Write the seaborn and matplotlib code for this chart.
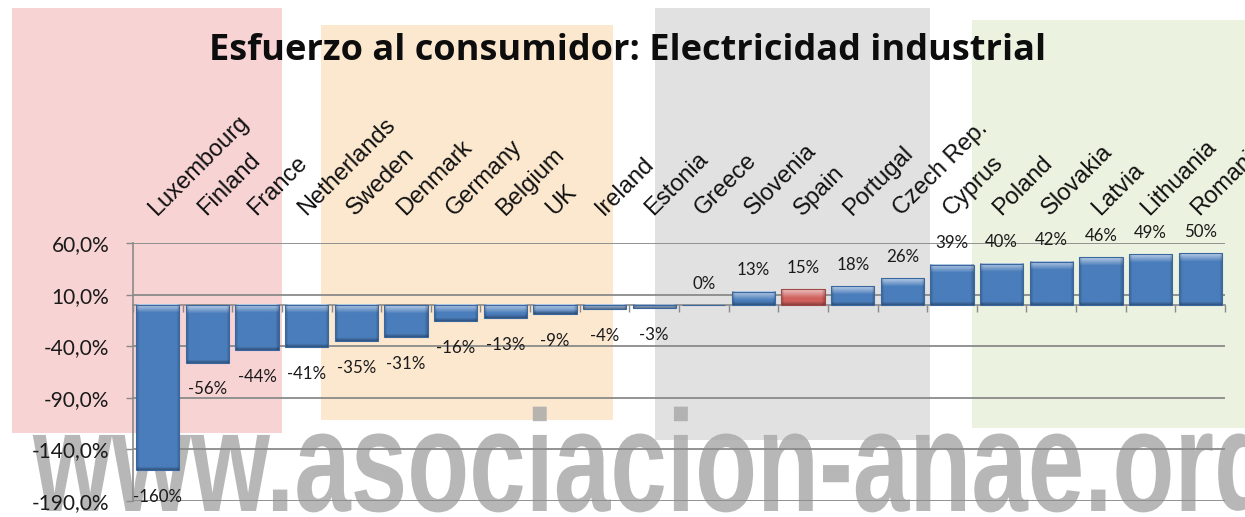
import numpy as np
import pandas as pd
import matplotlib
matplotlib.use("Agg")
import matplotlib.pyplot as plt
import matplotlib.transforms as mtransforms
from matplotlib.patches import Rectangle, PathPatch
from matplotlib.textpath import TextPath
from matplotlib.font_manager import FontProperties
from matplotlib.colors import to_rgb
import seaborn as sns

# ---- data ----
countries = ["Luxembourg", "Finland", "France", "Netherlands", "Sweden", "Denmark",
             "Germany", "Belgium", "UK", "Ireland", "Estonia", "Greece", "Slovenia",
             "Spain", "Portugal", "Czech Rep.", "Cyprus", "Poland", "Slovakia",
             "Latvia", "Lithuania", "Romania"]
values = [-160, -56, -44, -41, -35, -31, -16, -13, -9, -4, -3, 0, 13, 15, 18, 26,
          39, 40, 42, 46, 49, 50]
highlight = "Spain"
y_ticks = [60, 10, -40, -90, -140, -190]
title = "Esfuerzo al consumidor: Electricidad industrial"
watermark = "www.asociacion-anae.org"

df = pd.DataFrame({"country": countries, "value": values})

sns.set_theme(style="white")
plt.rcParams["font.family"] = ["Lato", "DejaVu Sans"]

W, H = 1245, 517
fig = plt.figure(figsize=(W / 100, H / 100), dpi=100)
fig.patch.set_facecolor("white")

# ---- faded logo background (decoration) ----
def px_rect(x0, y0, x1, y1, color):
    r = Rectangle((x0 / W, 1 - y1 / H), (x1 - x0) / W, (y1 - y0) / H,
                  transform=fig.transFigure, facecolor=color, edgecolor="none",
                  zorder=-3)
    fig.patches.append(r)

px_rect(12, 8, 282, 433, "#f8d3d4")
px_rect(321, 25, 613, 420, "#fce8cf")
px_rect(655, 8, 930, 440, "#e1e1e1")
px_rect(972, 20, 1245, 428, "#ebf2df")

# condensed bold watermark text
tp = TextPath((0, 0), watermark, size=144,
              prop=FontProperties(family="Liberation Sans", weight="bold"))
wm = PathPatch(tp, transform=mtransforms.Affine2D().scale(0.705, 1.0)
               .translate(33, H - 511) + mtransforms.IdentityTransform(),
               facecolor="#a8a8a8", edgecolor="none", alpha=0.82, zorder=-1)
fig.add_artist(wm)

ax_h_px = 501 - 243
ax = fig.add_axes([133 / W, 1 - 501 / H, (1225 - 133) / W, ax_h_px / H])
ax.set_facecolor("none")

red, blue = "#d0605c", "#4a7dbb"
palette = {c: (red if c == highlight else blue) for c in countries}
sns.barplot(data=df, x="country", y="value", hue="country", palette=palette,
            order=countries, hue_order=countries, width=0.87, dodge=False,
            legend=False, ax=ax, saturation=1, zorder=3)

ymin, ymax = -190, 60
ax.set_ylim(ymin, ymax)
ax.set_xlim(-0.5, len(countries) - 0.5)
ax.set_yticks(y_ticks)
ax.set_yticklabels([f"{t:.1f}".replace(".", ",") + "%" for t in y_ticks],
                   fontsize=15, color="#1a1a1a")
ax.yaxis.grid(True, color="#8a8a8a", linewidth=1.3, zorder=1)
ax.set_axisbelow(True)
ax.tick_params(axis="y", which="major", left=True, length=5, width=1,
               color="#8a8a8a", pad=12)

# category axis on the zero line with ticks between categories
ax.spines["bottom"].set_position(("data", 0))
ax.spines["bottom"].set_color("#8a8a8a")
ax.spines["bottom"].set_linewidth(1.2)
ax.spines["bottom"].set_zorder(2)
ax.set_xticks(np.arange(-0.5, len(countries), 1.0))
ax.set_xticklabels([])
ax.tick_params(axis="x", bottom=True, length=5, width=1, color="#8a8a8a",
               direction="out")
ax.spines["left"].set_color("#8a8a8a")
ax.spines["left"].set_linewidth(1.2)
for s in ["top", "right"]:
    ax.spines[s].set_visible(False)
ax.set_xlabel("")
ax.set_ylabel("")

# bevel-like shading, bar edges and data labels
ppu = ax_h_px / (ymax - ymin)
for cont in ax.containers:
    idx = int(round(cont[0].get_x() + cont[0].get_width() / 2))
    v = values[idx]
    for bar in cont:
        is_hl = countries[idx] == highlight
        base = np.array(to_rgb(bar.get_facecolor()))
        x0, w = bar.get_x(), bar.get_width()
        y0, h = bar.get_y(), bar.get_height()
        top, bot = max(y0, y0 + h), min(y0, y0 + h)
        nrows = int(round((top - bot) * ppu))
        if nrows >= 2:
            ncols = 43
            img = np.tile(base, (nrows, ncols, 1))
            d = np.arange(nrows)[:, None, None].astype(float)
            t = np.clip(1 - d / 8.0, 0, 1) * 0.6
            img = img * (1 - t) + t
            db = (nrows - 1 - d)
            tb = np.clip(1 - db / 3.0, 0, 1) * 0.3
            img = img * (1 - tb)
            c = np.arange(ncols)[None, :, None].astype(float)
            tc = np.clip(1 - np.minimum(c, ncols - 1 - c) / 3.0, 0, 1) * 0.2
            img = img * (1 - tc)
            ax.imshow(np.clip(img, 0, 1), extent=(x0, x0 + w, bot, top),
                      origin="upper", aspect="auto", interpolation="bilinear",
                      zorder=3.5)
        bar.set_edgecolor("#a04846" if is_hl else "#3a67a0")
        bar.set_linewidth(0.8)
        bar.set_zorder(4)
        bar.set_facecolor((0, 0, 0, 0) if nrows >= 2 else base)
    ax.bar_label(cont, labels=[f"{v}%"], padding=(13.5 if v < 0 else 9.5),
                 fontsize=12.2, color="#1a1a1a")

ax.set_xlim(-0.5, len(countries) - 0.5)
ax.set_ylim(ymin, ymax)
ax.set_aspect("auto")

# rotated category labels above the plot
trans = mtransforms.blended_transform_factory(ax.transData, ax.transAxes)
for i, c in enumerate(countries):
    ax.text(i - 0.02, 1 + 27 / ax_h_px, c, transform=trans, rotation=45,
            rotation_mode="anchor", ha="left", va="baseline", fontsize=17,
            family=["Liberation Sans", "DejaVu Sans"], color="#111111",
            clip_on=False)

fig.text(628 / W, 1 - 60 / H, title, fontsize=26, fontweight="bold",
         family=["Open Sans", "DejaVu Sans"],
         ha="center", va="baseline", color="#0d0d0d")

fig.savefig("out.png", dpi=100, facecolor=fig.get_facecolor())
